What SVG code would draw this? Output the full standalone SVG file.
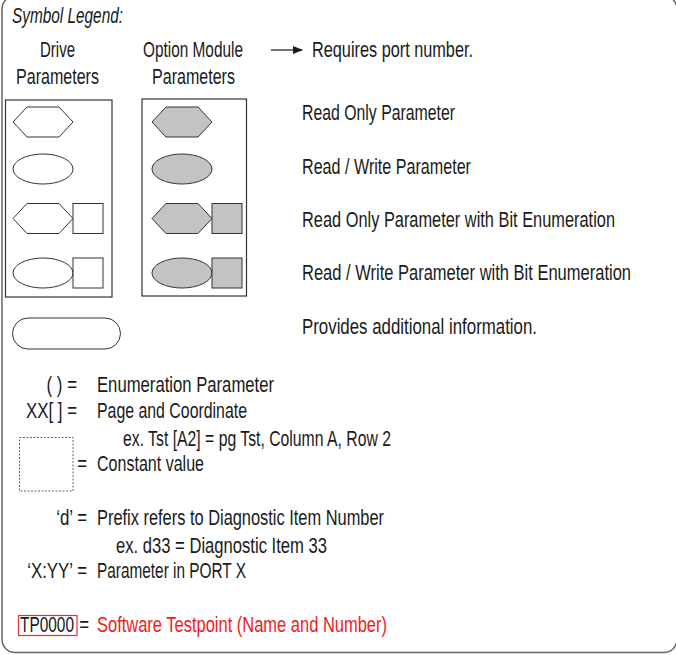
<svg xmlns="http://www.w3.org/2000/svg" width="676" height="655" viewBox="0 0 676 655">
<style>
text{font-family:"Liberation Sans",Arial,sans-serif;font-size:22.5px;fill:#1a1a1a}
.red{fill:#ee1c25}
.box{fill:#fff;stroke:#333;stroke-width:1.2}
.w{fill:#fff;stroke:#333;stroke-width:1}
.g{fill:#c2c3c5;stroke:#333;stroke-width:1}
</style>
<defs>
<marker id="ah" markerWidth="10" markerHeight="8" refX="9" refY="4" orient="auto" markerUnits="userSpaceOnUse">
<path d="M0,0 L10,4 L0,8 Z" fill="#1a1a1a"/>
</marker>
</defs>
<rect x="2" y="-4" width="675" height="656.5" rx="13" fill="#fff" stroke="#666" stroke-width="1.5"/>
<g id="connectors">
<line x1="271" y1="50" x2="302" y2="50" stroke="#1a1a1a" stroke-width="1.2" marker-end="url(#ah)"/>
</g>
<g id="drive-box">
<rect class="box" x="5.5" y="100" width="106.5" height="197"/>
<polygon class="w" points="13,122 27,107 59,107 73,122 59,137 27,137"/>
<ellipse class="w" cx="43" cy="169" rx="30" ry="15"/>
<polygon class="w" points="13,218.5 27,203.5 59,203.5 73,218.5 59,233.5 27,233.5"/>
<rect class="w" x="73" y="203.5" width="30" height="30"/>
<ellipse class="w" cx="43" cy="273" rx="30" ry="15"/>
<rect class="w" x="73" y="258" width="30" height="30"/>
</g>
<g id="option-box">
<rect class="box" x="142" y="99" width="104.5" height="197"/>
<polygon class="g" points="152,122 166,107 198,107 212,122 198,137 166,137"/>
<ellipse class="g" cx="182" cy="169" rx="30" ry="15"/>
<polygon class="g" points="152,218.5 166,203.5 198,203.5 212,218.5 198,233.5 166,233.5"/>
<rect class="g" x="212" y="203.5" width="30" height="30"/>
<ellipse class="g" cx="182" cy="273" rx="30" ry="15"/>
<rect class="g" x="212" y="258" width="30" height="30"/>
</g>
<g id="info">
<rect class="w" x="12.5" y="318" width="108" height="31" rx="15.5"/>
</g>
<g id="constant">
<rect x="19.5" y="437.5" width="53.5" height="53.5" fill="none" stroke="#666" stroke-width="1" stroke-dasharray="2,1.5"/>
</g>
<g id="testpoint">
<rect x="18.5" y="615.5" width="58.5" height="20" fill="none" stroke="#d9353b" stroke-width="1.2"/>
</g>
<g id="labels" transform="scale(0.75,1)">
<text x="16" y="23" font-style="italic" textLength="148" lengthAdjust="spacingAndGlyphs">Symbol Legend:</text>
<text x="76.667" y="57" text-anchor="middle" textLength="46.667" lengthAdjust="spacingAndGlyphs">Drive</text>
<text x="76.667" y="84" text-anchor="middle" textLength="110.667" lengthAdjust="spacingAndGlyphs">Parameters</text>
<text x="257.333" y="57" text-anchor="middle" textLength="133.333" lengthAdjust="spacingAndGlyphs">Option Module</text>
<text x="258" y="84" text-anchor="middle" textLength="110.667" lengthAdjust="spacingAndGlyphs">Parameters</text>
<text x="416" y="57" textLength="214.667" lengthAdjust="spacingAndGlyphs">Requires port number.</text>
<text x="402.667" y="120.5" textLength="204" lengthAdjust="spacingAndGlyphs">Read Only Parameter</text>
<text x="402.667" y="174.5" textLength="225.333" lengthAdjust="spacingAndGlyphs">Read / Write Parameter</text>
<text x="402.667" y="227.5" textLength="417.333" lengthAdjust="spacingAndGlyphs">Read Only Parameter with Bit Enumeration</text>
<text x="402.667" y="280.5" textLength="438.667" lengthAdjust="spacingAndGlyphs">Read / Write Parameter with Bit Enumeration</text>
<text x="402.667" y="334" textLength="313.333" lengthAdjust="spacingAndGlyphs">Provides additional information.</text>
<text x="102.667" y="392" text-anchor="end">( ) =</text>
<text x="129.333" y="392" textLength="236" lengthAdjust="spacingAndGlyphs">Enumeration Parameter</text>
<text x="102.667" y="418" text-anchor="end">XX[  ] =</text>
<text x="129.333" y="418" textLength="200" lengthAdjust="spacingAndGlyphs">Page and Coordinate</text>
<text x="164" y="446" textLength="357.333" lengthAdjust="spacingAndGlyphs">ex. Tst [A2] = pg Tst, Column A, Row 2</text>
<text x="116" y="471" text-anchor="end">=</text>
<text x="129.333" y="471" textLength="142.667" lengthAdjust="spacingAndGlyphs">Constant value</text>
<text x="116" y="525" text-anchor="end">‘d’ =</text>
<text x="129.333" y="525" textLength="382.667" lengthAdjust="spacingAndGlyphs">Prefix refers to Diagnostic Item Number</text>
<text x="154.667" y="553" textLength="281.333" lengthAdjust="spacingAndGlyphs">ex. d33 = Diagnostic Item 33</text>
<text x="116" y="578" text-anchor="end">‘X:YY’ =</text>
<text x="129.333" y="578" textLength="198.667" lengthAdjust="spacingAndGlyphs">Parameter in PORT X</text>
<text x="26.667" y="632" textLength="72" lengthAdjust="spacingAndGlyphs">TP0000</text>
<text x="118.667" y="632" text-anchor="end">=</text>
<text class="red" x="129.333" y="632" textLength="386.667" lengthAdjust="spacingAndGlyphs">Software Testpoint (Name and Number)</text>
</g>
</svg>
